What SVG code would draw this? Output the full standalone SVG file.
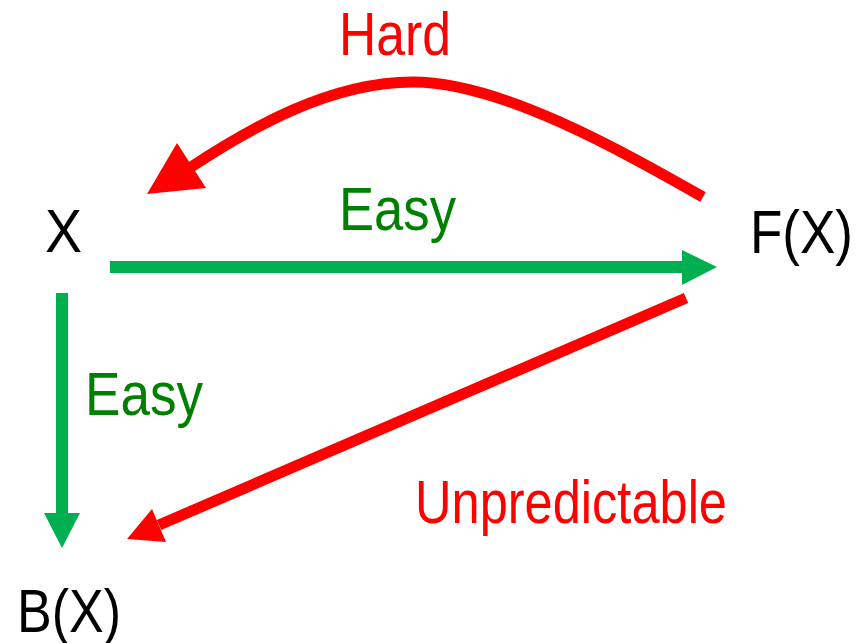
<svg xmlns="http://www.w3.org/2000/svg" width="864" height="643" viewBox="0 0 864 643">
<style>
text{font-family:"Liberation Sans",Arial,sans-serif;font-size:62px}
.k{fill:#000}
.r{fill:#FF0000}
.g{fill:#008000}
.rl{stroke:#FF0000;stroke-width:11;fill:none}
.gl{stroke:#00B050;stroke-width:12;fill:none}
.rh{fill:#FF0000}
.gh{fill:#00B050}
</style>
<rect width="864" height="643" fill="#fff"/>
<g id="connectors">
<g id="hard">
<path class="rl" d="M703,197 C620,150 500,82 413,82 C330,82 250,128 188,169"/>
<polygon class="rh" points="147,194 177,143 206,188"/>
</g>
<g id="easy-top">
<line class="gl" x1="110" y1="267" x2="684" y2="267"/>
<polygon class="gh" points="682,250 717,267 682,285"/>
</g>
<g id="easy-left">
<line class="gl" x1="62" y1="293" x2="62" y2="515"/>
<polygon class="gh" points="44,513 80,513 62,548"/>
</g>
<g id="unpredictable">
<line class="rl" x1="686" y1="298" x2="159" y2="525"/>
<polygon class="rh" points="127,539 152,509 166,542"/>
</g>
</g>
<g id="labels">
<text class="r" x="339" y="55" textLength="112" lengthAdjust="spacingAndGlyphs">Hard</text>
<text class="g" x="339" y="230" textLength="117" lengthAdjust="spacingAndGlyphs">Easy</text>
<text class="g" x="85" y="415" textLength="118" lengthAdjust="spacingAndGlyphs">Easy</text>
<text class="r" x="415" y="523" textLength="312" lengthAdjust="spacingAndGlyphs">Unpredictable</text>
</g>
<g id="node-x"><text class="k" x="45" y="252" textLength="37" lengthAdjust="spacingAndGlyphs">X</text></g>
<g id="node-fx"><text class="k" x="750" y="253" textLength="103" lengthAdjust="spacingAndGlyphs">F(X)</text></g>
<g id="node-bx"><text class="k" x="17" y="632" textLength="104" lengthAdjust="spacingAndGlyphs">B(X)</text></g>
</svg>
